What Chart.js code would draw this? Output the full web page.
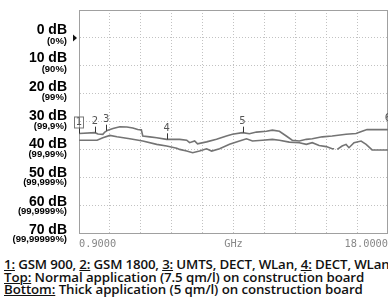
<!DOCTYPE html>
<html>
<head>
<meta charset="utf-8">
<script src="https://cdn.jsdelivr.net/npm/chart.js@4/dist/chart.umd.min.js"></script>
<style>
html,body{margin:0;padding:0;background:#fff;width:388px;height:299px;overflow:hidden;}
#wrap{position:absolute;left:0;top:0;width:388px;height:254px;}
#foot{position:absolute;left:4px;top:258px;font-family:"Open Sans",sans-serif;font-weight:600;font-size:13.3px;line-height:12.7px;color:#111;white-space:nowrap;letter-spacing:-0.08px;}
#foot .l1{letter-spacing:-0.16px;}
#foot u{text-decoration-thickness:1px;text-underline-offset:1px;}
</style>
</head>
<body>
<div id="wrap"><canvas id="c" width="388" height="254"></canvas></div>
<div id="foot">
<div class="l1"><u>1:</u> GSM 900, <u>2:</u> GSM 1800, <u>3:</u> UMTS, DECT, WLan, <u>4:</u> DECT, WLan</div>
<div><u>Top:</u> Normal application (7.5 qm/l) on construction board</div>
<div><u>Bottom:</u> Thick application (5 qm/l) on construction board</div>
</div>
<script>
// ---- data (frequency in GHz, attenuation in dB) ----
const topFreq = [0.90,1.78,1.95,2.22,2.33,2.50,2.78,3.16,3.55,3.88,4.15,4.35,4.43,4.82,5.20,5.75,6.31,6.47,6.86,7.02,7.30,7.46,7.96,8.51,9.06,9.39,9.95,10.33,10.72,11.27,11.60,11.99,12.37,12.70,13.09,13.48,13.81,14.36,14.91,15.68,16.23,16.57,16.84,17.12,18.00];
const topDb   = [34.3,34.0,34.5,34.6,33.8,33.1,32.5,31.9,32.0,32.3,32.9,33.0,35.2,35.5,35.8,36.4,36.4,36.4,36.7,37.6,37.0,38.0,37.3,36.4,35.2,34.6,34.0,34.4,33.8,33.5,33.1,33.5,35.2,36.7,37.0,36.4,36.2,35.5,35.2,34.6,34.3,33.5,32.9,32.9,32.9];
const bottomFreq = [0.90,1.90,2.22,2.61,3.00,3.71,4.43,5.20,5.75,6.31,6.47,6.86,7.19,7.57,7.96,8.24,8.68,9.23,9.78,10.17,10.50,11.05,11.60,11.99,12.54,13.09,13.48,13.81,14.19,14.58,14.91,15.02,15.10,15.19,15.46,15.68,15.84,16.12,16.51,16.79,17.12,18.00];
const bottomDb   = [36.7,36.7,35.8,35.0,35.5,36.2,37.0,38.2,38.8,39.6,40.0,40.6,41.2,40.6,39.8,40.6,39.8,38.2,37.0,36.2,37.0,36.7,36.4,36.7,37.4,37.6,38.2,37.6,38.6,39.0,39.8,39.8,null,40.0,38.8,38.2,39.4,37.6,37.0,38.2,40.2,40.2];
const markerFreq = [0.9,1.78,2.4,5.75,9.95,18.0];
const markerDb   = [34.3,34.0,33.3,36.4,34.0,32.9];
const markerLabels = ['1','2','3','4','5','6'];
const xTickValues = [0.9,2.61,4.32,6.03,7.74,9.45,11.16,12.87,14.58,16.29,18.0];
const xTickLabels = ['0.9000','','','','','GHz','','','','','18.0000'];
const yLabelValues = [0,10,20,30,40,50,60,70];
const yDbLabels  = ['0 dB','10 dB','20 dB','30 dB','40 dB','50 dB','60 dB','70 dB'];
const yPctLabels = ['(0%)','(90%)','(99%)','(99,9%)','(99,99%)','(99,999%)','(99,9999%)','(99,99999%)'];

const toPts = (xs, ys) => xs.map((x, i) => ({x: x, y: ys[i]}));

const decor = {
  id: 'decor',
  beforeDatasetsDraw(chart) {
    const {ctx, chartArea: a} = chart;
    ctx.save();
    ctx.strokeStyle = '#a0a0a0';
    ctx.lineWidth = 1;
    ctx.strokeRect(a.left + 0.5, a.top + 0.5, a.right - a.left - 1, a.bottom - a.top);
    ctx.restore();
  },
  afterDraw(chart) {
    const {ctx, chartArea: a} = chart;
    const xs = chart.scales.x, ys = chart.scales.y;
    ctx.save();
    // x tick labels (first left-aligned, last right-aligned)
    ctx.font = '10.3px "DejaVu Sans Mono", monospace';
    ctx.fillStyle = '#888';
    ctx.textBaseline = 'middle';
    const n = xTickValues.length;
    xTickValues.forEach((v, i) => {
      if (!xTickLabels[i]) return;
      ctx.textAlign = i === 0 ? 'left' : (i === n - 1 ? 'right' : 'center');
      ctx.fillText(xTickLabels[i], xs.getPixelForValue(v), a.bottom + 11);
    });
    // y labels
    ctx.textAlign = 'right';
    ctx.fillStyle = '#000';
    yLabelValues.forEach((v, i) => {
      const p = ys.getPixelForValue(v);
      const shift = (v / 70) * 5.5;
      ctx.font = 'bold 14px "Liberation Sans", Arial, sans-serif';
      ctx.fillText(yDbLabels[i], 67, p - 8 + shift);
      ctx.font = 'bold 9.5px "Liberation Sans", Arial, sans-serif';
      ctx.fillText(yPctLabels[i], 67, p + 3 + shift * 0.6);
    });
    // reference level arrow at 0 dB
    const p0 = ys.getPixelForValue(0);
    ctx.fillStyle = '#111';
    ctx.beginPath();
    ctx.moveTo(a.left - 6, p0 - 3.5);
    ctx.lineTo(a.left - 2, p0);
    ctx.lineTo(a.left - 6, p0 + 3.5);
    ctx.closePath();
    ctx.fill();
    // markers
    ctx.font = '10px "DejaVu Sans", sans-serif';
    ctx.textAlign = 'center';
    ctx.textBaseline = 'middle';
    markerFreq.forEach((f, i) => {
      const px = xs.getPixelForValue(f);
      const py = ys.getPixelForValue(markerDb[i]);
      ctx.strokeStyle = '#333';
      ctx.lineWidth = 1;
      ctx.beginPath();
      ctx.moveTo(Math.round(px) + 0.5, py);
      ctx.lineTo(Math.round(px) + 0.5, py - 6);
      ctx.stroke();
      ctx.fillStyle = '#555';
      ctx.fillText(markerLabels[i], px, py - 11);
      if (i === 0) {
        ctx.strokeStyle = '#777';
        ctx.strokeRect(Math.round(px) - 4.5, py - 16.5, 9, 11);
      }
    });
    ctx.restore();
  }
};

new Chart(document.getElementById('c'), {
  type: 'line',
  data: {
    datasets: [
      {label: 'Top', data: toPts(topFreq, topDb), borderColor: '#747474', borderWidth: 1.6, pointRadius: 0, tension: 0, fill: false, spanGaps: false},
      {label: 'Bottom', data: toPts(bottomFreq, bottomDb), borderColor: '#747474', borderWidth: 1.6, pointRadius: 0, tension: 0, fill: false, spanGaps: false}
    ]
  },
  options: {
    responsive: false,
    animation: false,
    layout: {padding: {left: 79, top: 10, right: 0, bottom: 21}},
    plugins: {legend: {display: false}, tooltip: {enabled: false}},
    scales: {
      x: {
        type: 'linear', min: 0.9, max: 18,
        afterBuildTicks(scale) { scale.ticks = xTickValues.map(v => ({value: v})); },
        ticks: {display: false},
        grid: {color: '#c2c2c2', lineWidth: 1, drawTicks: false},
        border: {display: true, color: '#a0a0a0', dash: [1, 2]}
      },
      y: {
        type: 'linear', min: -10, max: 70, reverse: true,
        ticks: {display: false, stepSize: 10},
        grid: {color: '#c2c2c2', lineWidth: 1, drawTicks: false},
        border: {display: true, color: '#a0a0a0', dash: [1, 2]}
      }
    }
  },
  plugins: [decor]
});
</script>
</body>
</html>
